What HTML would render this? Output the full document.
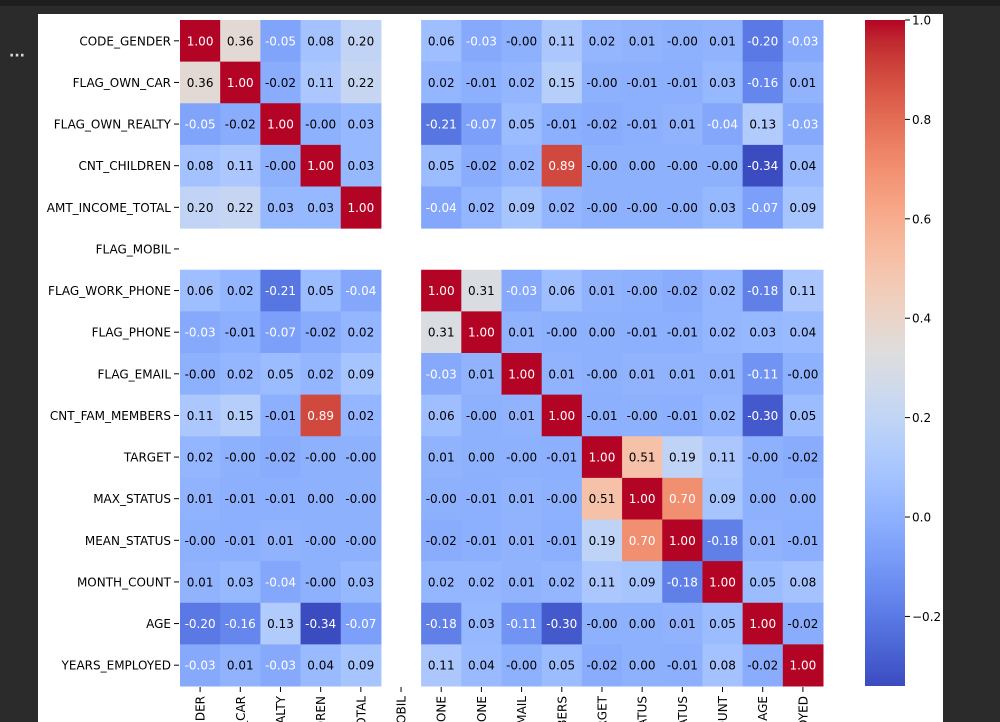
<!DOCTYPE html>
<html><head><meta charset="utf-8"><style>
html,body{margin:0;padding:0;background:#2b2b2b;width:1000px;height:722px;overflow:hidden;font-family:"DejaVu Sans","Liberation Sans",sans-serif;}
svg{display:block;}
</style></head><body>
<svg width="1000" height="722" xmlns="http://www.w3.org/2000/svg">
<rect x="0" y="0" width="1000" height="722" fill="#2b2b2b"/>
<rect x="0" y="0" width="1000" height="6" fill="#1e1e1e"/>
<text x="17" y="60" fill="#ddd" font-size="14" font-weight="bold" text-anchor="middle">···</text>
<rect x="38" y="14" width="905" height="708" fill="#fff"/>
<g id="cells"></g><g id="ylab"></g><g id="xlab"></g>
<defs><linearGradient id="cg" x1="0" y1="1" x2="0" y2="0"></linearGradient></defs>
<rect x="865" y="20" width="40" height="666" fill="url(#cg)"/>
<g id="cbt"></g>
</svg>
<script>
const labels=["CODE_GENDER","FLAG_OWN_CAR","FLAG_OWN_REALTY","CNT_CHILDREN","AMT_INCOME_TOTAL","FLAG_MOBIL","FLAG_WORK_PHONE","FLAG_PHONE","FLAG_EMAIL","CNT_FAM_MEMBERS","TARGET","MAX_STATUS","MEAN_STATUS","MONTH_COUNT","AGE","YEARS_EMPLOYED"];
const N=null;
const r0=[1.00,0.36,-0.05,0.08,0.20,N,0.06,-0.03,-0.00,0.11,0.02,0.01,-0.00,0.01,-0.20,-0.03];
const r1=[0.36,1.00,-0.02,0.11,0.22,N,0.02,-0.01,0.02,0.15,-0.00,-0.01,-0.01,0.03,-0.16,0.01];
const r2=[-0.05,-0.02,1.00,-0.00,0.03,N,-0.21,-0.07,0.05,-0.01,-0.02,-0.01,0.01,-0.04,0.13,-0.03];
const r3=[0.08,0.11,-0.00,1.00,0.03,N,0.05,-0.02,0.02,0.89,-0.00,0.00,-0.00,-0.00,-0.34,0.04];
const r4=[0.20,0.22,0.03,0.03,1.00,N,-0.04,0.02,0.09,0.02,-0.00,-0.00,-0.00,0.03,-0.07,0.09];
const r5=[N,N,N,N,N,N,N,N,N,N,N,N,N,N,N,N];
const r6=[0.06,0.02,-0.21,0.05,-0.04,N,1.00,0.31,-0.03,0.06,0.01,-0.00,-0.02,0.02,-0.18,0.11];
const r7=[-0.03,-0.01,-0.07,-0.02,0.02,N,0.31,1.00,0.01,-0.00,0.00,-0.01,-0.01,0.02,0.03,0.04];
const r8=[-0.00,0.02,0.05,0.02,0.09,N,-0.03,0.01,1.00,0.01,-0.00,0.01,0.01,0.01,-0.11,-0.00];
const r9=[0.11,0.15,-0.01,0.89,0.02,N,0.06,-0.00,0.01,1.00,-0.01,-0.00,-0.01,0.02,-0.30,0.05];
const r10=[0.02,-0.00,-0.02,-0.00,-0.00,N,0.01,0.00,-0.00,-0.01,1.00,0.51,0.19,0.11,-0.00,-0.02];
const r11=[0.01,-0.01,-0.01,0.00,-0.00,N,-0.00,-0.01,0.01,-0.00,0.51,1.00,0.70,0.09,0.00,0.00];
const r12=[-0.00,-0.01,0.01,-0.00,-0.00,N,-0.02,-0.01,0.01,-0.01,0.19,0.70,1.00,-0.18,0.01,-0.01];
const r13=[0.01,0.03,-0.04,-0.00,0.03,N,0.02,0.02,0.01,0.02,0.11,0.09,-0.18,1.00,0.05,0.08];
const r14=[-0.20,-0.16,0.13,-0.34,-0.07,N,-0.18,0.03,-0.11,-0.30,-0.00,0.00,0.01,0.05,1.00,-0.02];
const r15=[-0.03,0.01,-0.03,0.04,0.09,N,0.11,0.04,-0.00,0.05,-0.02,0.00,-0.01,0.08,-0.02,1.00];
const matrix=[r0,r1,r2,r3,r4,r5,r6,r7,r8,r9,r10,r11,r12,r13,r14,r15];
const cbTicks=[1.0,0.8,0.6,0.4,0.2,0.0,-0.2];
const vmin=-0.34,vmax=1.0;
const cw=[[59,76,192],[68,90,204],[77,104,215],[87,117,225],[98,130,234],[108,142,241],[119,154,247],[130,165,251],[141,176,254],[152,185,255],[163,194,255],[174,201,253],[184,208,249],[194,213,244],[204,217,238],[213,219,230],[221,221,221],[229,216,209],[236,211,197],[241,204,185],[245,196,173],[247,187,160],[247,177,148],[247,166,135],[244,154,123],[241,141,111],[236,127,99],[229,112,88],[222,96,77],[213,80,66],[203,62,56],[192,40,47],[180,4,38]];
function cmap(t){t=Math.max(0,Math.min(1,t));const p=t*32,i=Math.min(31,Math.floor(p)),f=p-i;const a=cw[i],b=cw[i+1];return a.map((c,k)=>Math.round(c+(b[k]-c)*f));}
function fmt(v){return (v<0||Object.is(v,-0)?'-':'')+Math.abs(v).toFixed(2);}
const NS="http://www.w3.org/2000/svg";
const X0=180,Y0=20,W=643,H=666,n=labels.length,cx=W/n,cy=H/n;
const xs=i=>X0+i*cx, ys=j=>Y0+j*cy, norm=v=>(v-vmin)/(vmax-vmin), cbY=v=>Y0+H-norm(v)*H;
function mk(tag,at,par){const e=document.createElementNS(NS,tag);for(const k in at)e.setAttribute(k,at[k]);par.appendChild(e);return e;}
const gc=document.getElementById('cells');
matrix.forEach((row,j)=>row.forEach((v,i)=>{
 if(v===null)return;
 const c=cmap(norm(v));
 const r=mk('rect',{x:xs(i),y:ys(j),width:cx+0.5,height:cy+0.5,fill:`rgb(${c})`},gc);
 
 
 const lum=0.2126*c[0]+0.7152*c[1]+0.0722*c[2];
 const t=mk('text',{x:xs(i)+cx/2,y:ys(j)+cy/2+4.5,'font-size':12,'text-anchor':'middle',fill:lum>169?'#000':'#fff'},gc);
 t.textContent=fmt(v);
 
 
}));
const gy=document.getElementById('ylab'),gx=document.getElementById('xlab');
labels.forEach((l,j)=>{
 const y=ys(j)+cy/2;
 mk('line',{x1:174,x2:179,y1:y,y2:y,stroke:'#000','stroke-width':1},gy);
 const t=mk('text',{x:171,y:y+4.5,'font-size':12,'text-anchor':'end',fill:'#000'},gy);
 t.textContent=l;
 
 
 const x=xs(j)+cx/2;
 mk('line',{x1:x,x2:x,y1:687,y2:692,stroke:'#000','stroke-width':1},gx);
 const u=mk('text',{x:0,y:0,'font-size':12,'text-anchor':'end',fill:'#000',transform:`translate(${x+4.5},696) rotate(-90)`},gx);
 u.textContent=l;
 
 
});
const gr=document.getElementById('cg');
for(let k=0;k<=32;k++){mk('stop',{offset:k/32,'stop-color':`rgb(${cw[k]})`},gr);}
const gt=document.getElementById('cbt');
cbTicks.forEach(v=>{
 const y=cbY(v);
 mk('line',{x1:905,x2:910,y1:y,y2:y,stroke:'#000'},gt);
 const t=mk('text',{x:912,y:y+4.5,'font-size':12,fill:'#000'},gt);
 t.textContent=(v<0?'\u2212':'')+Math.abs(v).toFixed(1);
 
 
});
</script>
</body></html>
